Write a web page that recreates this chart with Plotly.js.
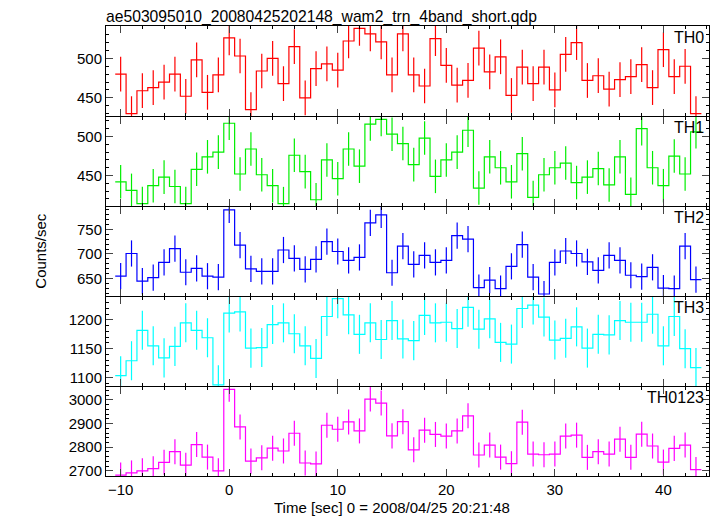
<!DOCTYPE html>
<html>
<head>
<meta charset="utf-8">
<script src="https://cdn.plot.ly/plotly-3.0.1.min.js"></script>
<style>html,body{margin:0;padding:0;background:#fff;}#chart{width:717px;height:516px;}</style>
</head>
<body>
<div id="chart"></div>
<script>
// Bin centre times (s), 1-s bins
const time = [-10,-9,-8,-7,-6,-5,-4,-3,-2,-1,0,1,2,3,4,5,6,7,8,9,10,11,12,13,14,15,16,17,18,19,20,21,22,23,24,25,26,27,28,29,30,31,32,33,34,35,36,37,38,39,40,41,42,43];

const th0 = [480,430,459,463,470,480,452,498,457,479,526,503,435,484,500,468,515,450,487,493,485,522,538,531,521,479,531,
             479,465,525,491,466,472,513,483,502,453,489,468,489,460,505,520,472,478,461,473,477,492,463,511,477,490,430];
const th1 = [442,431,414,437,448,436,414,458,474,480,517,452,484,451,437,414,476,455,419,470,446,484,462,516,522,503,491,
             464,498,449,470,480,508,434,474,460,442,478,422,451,460,466,441,448,459,438,474,426,510,460,437,475,452,506];
const th2 = [655,701,645,652,683,711,663,671,655,653,789,718,670,665,665,708,691,669,689,725,705,687,693,763,779,662,716,
             679,697,683,687,737,730,632,647,630,675,719,653,619,683,706,701,684,667,697,687,657,654,673,631,630,716,648];
const th3 = [1103,1129,1182,1155,1134,1154,1195,1182,1169,1087,1212,1214,1151,1152,1192,1195,1176,1155,1133,1206,1237,1209,1175,1195,1166,1199,1167,
             1164,1208,1195,1196,1185,1222,1184,1202,1161,1158,1220,1226,1205,1165,1168,1188,1151,1175,1174,1199,1196,1196,1210,1155,1206,1150,1117];
const th0123 = [2682,2691,2700,2709,2736,2781,2724,2811,2758,2700,3045,2886,2741,2755,2796,2784,2859,2733,2729,2893,2876,2907,2869,3004,2987,2848,2908,
                2789,2872,2854,2847,2869,2933,2767,2809,2758,2730,2906,2771,2768,2771,2847,2851,2757,2781,2771,2834,2757,2855,2805,2737,2795,2809,2705];

const panelNames = ["TH0","TH1","TH2","TH3","TH0123"];
const panelErr = [22, 21.5, 26.5, 34, 53];   // 1-sigma error half-widths
const yRanges = [[427,541],[411,525],[615,795],[1085,1240],[2678,3055]];
const yDticks = [50,50,50,50,100];
const yMinor = [10,10,10,10,20];
const colors = ["#ff0000","#00ee00","#0000ff","#00ffff","#ff00ff"];
const series = [th0, th1, th2, th3, th0123];

const FONT = "Liberation Sans, Arial, sans-serif";
const plotH = 516 - 26 - 40;
const traces = [];
const layout = {
  width:717, height:516,
  margin:{l:106, r:8, t:26, b:40},
  paper_bgcolor:"#fff", plot_bgcolor:"#fff",
  showlegend:false,
  font:{family:FONT, size:15, color:"#000"},
  annotations:[],
  title:{text:"ae503095010_20080425202148_wam2_trn_4band_short.qdp", x:0, xref:"paper", xanchor:"left", y:1, yref:"paper", yanchor:"bottom", pad:{b:4},
         font:{family:FONT, size:15.7, color:"#000"}}
};

const n = series.length;
for (let i=0;i<n;i++){
  const ax = i===0 ? "" : String(i+1);
  const xa = "x"+ax, ya = "y"+ax;
  const vals = series[i];
  // step outline built from bin centres
  const xs = time.map(t=>t-0.5); xs.push(time[time.length-1]+0.5);
  const ys = vals.slice(); ys.push(vals[vals.length-1]);
  traces.push({type:"scatter", mode:"lines", x:xs, y:ys, xaxis:xa, yaxis:ya,
               line:{shape:"hv", color:colors[i], width:1.2}, hoverinfo:"skip"});
  traces.push({type:"scatter", mode:"markers", x:time, y:vals, xaxis:xa, yaxis:ya,
               marker:{size:0.1, color:colors[i], opacity:0},
               error_y:{type:"constant", value:panelErr[i], color:colors[i], thickness:1.2, width:0}, hoverinfo:"skip"});
  const top = 1 - i/n - (i>0 ? 1/plotH : 0), bot = 1 - (i+1)/n;
  layout["yaxis"+ax] = {domain:[bot, top], range:yRanges[i], anchor:xa, dtick:yDticks[i], ticks:"inside", ticklen:7, tickwidth:1,
    showline:true, linecolor:"#000", linewidth:1, mirror:"allticks", showgrid:false, zeroline:false,
    tickfont:{size:15}, minor:{ticks:"inside", ticklen:3, dtick:yMinor[i], tickcolor:"#000", showgrid:false}};
  layout["xaxis"+ax] = {domain:[0,1], range:[-11.35,44.2], anchor:ya, dtick:10, tick0:0, ticks:"inside", ticklen:7, tickwidth:1,
    showline:true, linecolor:"#000", linewidth:1, mirror:"allticks", showgrid:false, zeroline:false,
    showticklabels: i===n-1, tickfont:{size:15},
    minor:{ticks:"inside", ticklen:3, dtick:2, tickcolor:"#000", showgrid:false}};
  layout.annotations.push({text:panelNames[i], xref:"paper", yref:"paper", x:1, y:1 - i/n, xanchor:"right", yanchor:"top",
    xshift:-3, yshift:-1, showarrow:false, font:{size:16, color:"#000"}});
}
layout.annotations.push({text:"Time [sec] 0 = 2008/04/25 20:21:48", xref:"paper", yref:"paper", x:0.474, y:-0.07,
  xanchor:"center", yanchor:"middle", showarrow:false, font:{size:15, color:"#000"}});
layout.annotations.push({text:"Counts/sec", xref:"paper", yref:"paper", x:-0.11, y:0.5, textangle:-90, showarrow:false,
  xanchor:"center", yanchor:"middle", font:{size:15, color:"#000"}});

Plotly.newPlot("chart", traces, layout, {staticPlot:true, displayModeBar:false});
</script>
</body>
</html>
